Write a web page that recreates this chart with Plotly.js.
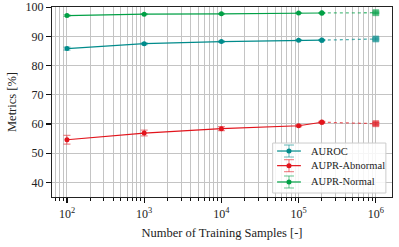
<!DOCTYPE html>
<html>
<head>
<meta charset="utf-8">
<script src="https://cdn.plot.ly/plotly-3.0.1.min.js"></script>
<style>html,body{margin:0;padding:0;background:#fff;}#chart{width:399px;height:247px;}</style>
</head>
<body>
<div id="chart"></div>
<script>
// Data
const samples = [100, 1000, 10000, 100000, 200000, 1000000];
const auroc = [85.8, 87.5, 88.2, 88.7, 88.7, 89.1];
const aurocErr = [0.5, 0.3, 0.3, 0.2, 0.2, 0.3];
const auprAbnormal = [54.6, 56.9, 58.4, 59.4, 60.6, 60.1];
const auprAbnormalErr = [1.5, 1.0, 0.7, 0.3, 0.3, 0.4];
const auprNormal = [97.1, 97.6, 97.7, 98.0, 98.0, 98.1];
const auprNormalErr = [0.3, 0.2, 0.2, 0.1, 0.1, 0.2];
const seriesNames = ['AUROC', 'AUPR-Abnormal', 'AUPR-Normal'];
const majorTickVals = [100, 1000, 10000, 100000, 1000000];
const majorTickText = ['10<sup>2</sup>', '10<sup>3</sup>', '10<sup>4</sup>', '10<sup>5</sup>', '10<sup>6</sup>'];
const yTickVals = [40, 50, 60, 70, 80, 90, 100];

const colors = ['#008B8B', '#E2141C', '#00A045'];
const errColors = ['rgba(0,139,139,0.5)', 'rgba(226,20,28,0.5)', 'rgba(0,160,69,0.5)'];
const dotColors = ['rgba(0,139,139,0.65)', 'rgba(226,20,28,0.65)', 'rgba(0,160,69,0.65)'];
const allY = [auroc, auprAbnormal, auprNormal];
const allErr = [aurocErr, auprAbnormalErr, auprNormalErr];

// minor tick positions (2..9 per decade)
const minorVals = [];
for (let d = 1; d <= 6; d++) {
  for (let k = 2; k <= 9; k++) minorVals.push(k * Math.pow(10, d));
}

const traces = [];
for (let i = 0; i < 3; i++) {
  const n = samples.length;
  traces.push({
    x: samples.slice(0, n - 1), y: allY[i].slice(0, n - 1),
    type: 'scatter', mode: 'lines+markers', name: seriesNames[i], showlegend: false,
    line: {color: colors[i], width: 1.2},
    marker: {color: colors[i], size: 5, symbol: 'circle'},
    error_y: {type: 'data', array: allErr[i].slice(0, n - 1), visible: true,
              color: errColors[i], thickness: 1.2, width: 3.5}
  });
  traces.push({
    x: samples.slice(n - 2), y: allY[i].slice(n - 2),
    type: 'scatter', mode: 'lines+markers', showlegend: false,
    line: {color: dotColors[i], width: 1.3, dash: 'dot'},
    marker: {color: colors[i], size: [5, 6], symbol: ['circle', 'square']},
    error_y: {type: 'data', array: [0, allErr[i][n - 1]], visible: true,
              color: errColors[i], thickness: 1.2, width: 3.5}
  });
}

// Legend (drawn in paper coordinates, matplotlib-style with error-bar glyphs)
const legX0 = 0.649, legX1 = 0.982, legY0 = 0.021, legY1 = 0.284;
const rowY = [0.242, 0.165, 0.079];
const symX0 = 0.662, symX1 = 0.732, symXc = 0.697, txtX = 0.756;
const capHalf = 5 / 340;
const shapes = [{
  type: 'rect', xref: 'paper', yref: 'paper', x0: legX0, x1: legX1, y0: legY0, y1: legY1,
  fillcolor: 'rgba(255,255,255,0.85)', line: {color: '#cccccc', width: 1}, layer: 'above'
}];
const annotations = [];
for (let i = 0; i < 3; i++) {
  shapes.push({type: 'line', xref: 'paper', yref: 'paper', x0: symX0, x1: symX1, y0: rowY[i], y1: rowY[i],
               line: {color: colors[i], width: 1.2}, layer: 'above'});
  shapes.push({type: 'line', xref: 'paper', yref: 'paper', ysizemode: 'pixel', yanchor: rowY[i],
               x0: symXc, x1: symXc, y0: -6, y1: 6, line: {color: errColors[i], width: 1.2}, layer: 'above'});
  shapes.push({type: 'line', xref: 'paper', yref: 'paper', ysizemode: 'pixel', yanchor: rowY[i],
               x0: symXc - capHalf, x1: symXc + capHalf, y0: 6, y1: 6, line: {color: errColors[i], width: 1.2}, layer: 'above'});
  shapes.push({type: 'line', xref: 'paper', yref: 'paper', ysizemode: 'pixel', yanchor: rowY[i],
               x0: symXc - capHalf, x1: symXc + capHalf, y0: -6, y1: -6, line: {color: errColors[i], width: 1.2}, layer: 'above'});
  shapes.push({type: 'circle', xref: 'paper', yref: 'paper', xsizemode: 'pixel', ysizemode: 'pixel',
               xanchor: symXc, yanchor: rowY[i], x0: -2.5, x1: 2.5, y0: -2.5, y1: 2.5,
               fillcolor: colors[i], line: {color: colors[i], width: 0}, layer: 'above'});
  annotations.push({xref: 'paper', yref: 'paper', x: txtX, y: rowY[i], xanchor: 'left', yanchor: 'middle',
                    text: seriesNames[i], showarrow: false, font: {size: 10.5, color: '#222'}});
}

const layout = {
  width: 399, height: 247,
  margin: {l: 52, r: 7, t: 7, b: 50},
  paper_bgcolor: '#fff', plot_bgcolor: '#fff',
  font: {family: 'Liberation Serif, DejaVu Serif, serif', size: 12, color: '#222'},
  showlegend: false,
  xaxis: {
    type: 'log', range: [Math.log10(64), Math.log10(1620000)],
    tickmode: 'array', tickvals: majorTickVals, ticktext: majorTickText,
    ticks: 'outside', ticklen: 5, tickwidth: 1.2, tickcolor: '#111',
    showgrid: true, gridcolor: '#c4c4c4', gridwidth: 1,
    minor: {tickmode: 'array', tickvals: minorVals, ticks: 'outside', ticklen: 3,
            tickwidth: 1, tickcolor: '#111', showgrid: true, gridcolor: '#c4c4c4', gridwidth: 1},
    showline: true, linecolor: '#222', linewidth: 1.2, mirror: true,
    zeroline: false,
    tickfont: {size: 12},
    title: {text: 'Number of Training Samples [-]', font: {size: 12.5}, standoff: 8}
  },
  yaxis: {
    range: [35, 100.05],
    tickmode: 'array', tickvals: yTickVals,
    ticks: 'outside', ticklen: 5, tickwidth: 1.2, tickcolor: '#111',
    showgrid: true, gridcolor: '#c4c4c4', gridwidth: 1,
    showline: true, linecolor: '#222', linewidth: 1.2, mirror: true,
    zeroline: false, ticklabeloverflow: 'allow',
    tickfont: {size: 12},
    title: {text: 'Metrics [%]', font: {size: 12.5}, standoff: 6}
  },
  shapes: shapes,
  annotations: annotations
};

Plotly.newPlot('chart', traces, layout, {displayModeBar: false, staticPlot: true});
</script>
</body>
</html>
